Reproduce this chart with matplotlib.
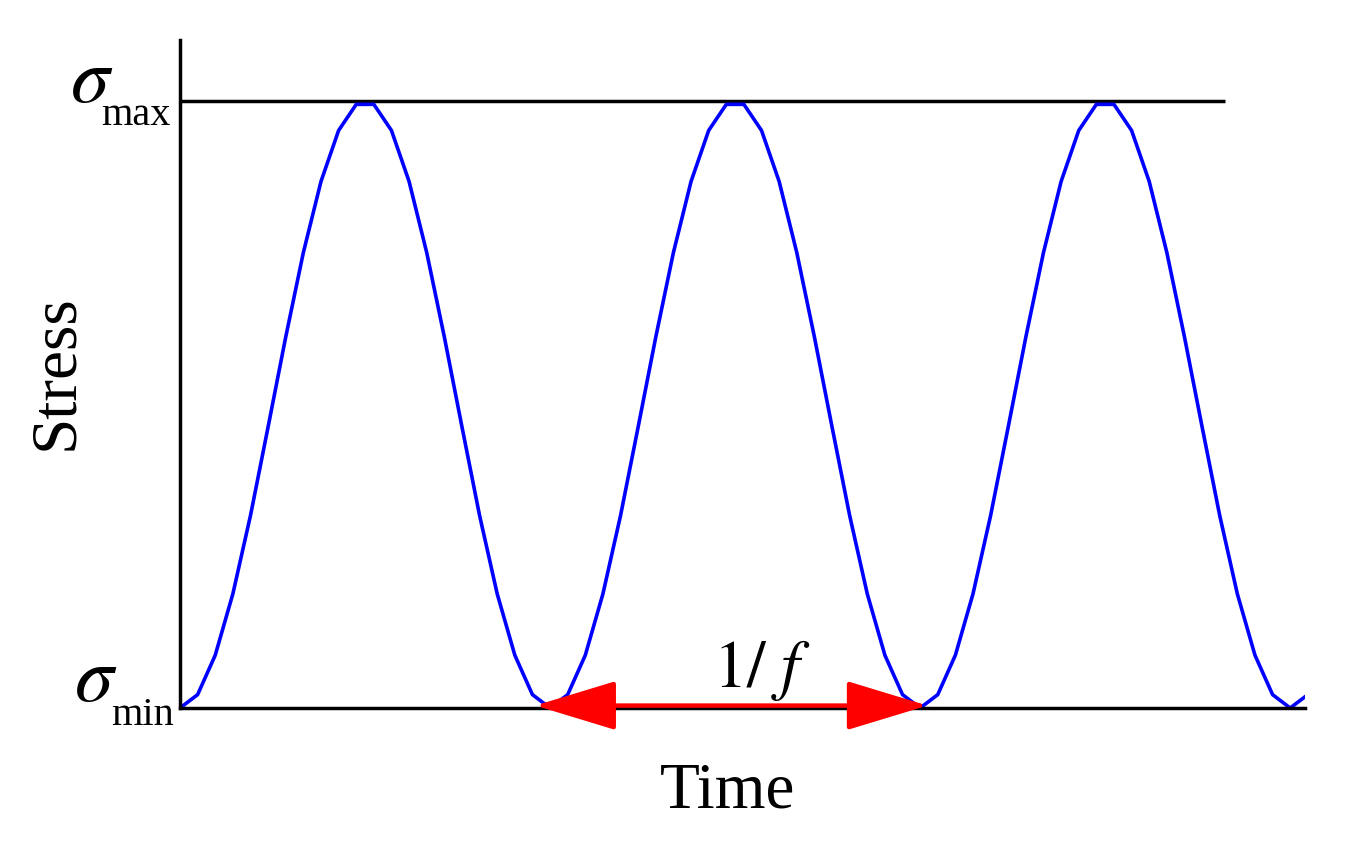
import numpy as np
import matplotlib
matplotlib.use("Agg")
import matplotlib.pyplot as plt

plt.rcParams['mathtext.fontset'] = 'stix'
plt.rcParams['font.family'] = ['Liberation Serif', 'DejaVu Serif']

# ---- data (normalised stress, sampled 21 times per cycle) ----
stress = [0.000, 0.022, 0.087, 0.188, 0.317, 0.463, 0.611, 0.750, 0.867, 0.951, 0.994,
          0.994, 0.951, 0.867, 0.750, 0.611, 0.463, 0.317, 0.188, 0.087, 0.022,
          0.000, 0.022, 0.087, 0.188, 0.317, 0.463, 0.611, 0.750, 0.867, 0.951, 0.994,
          0.994, 0.951, 0.867, 0.750, 0.611, 0.463, 0.317, 0.188, 0.087, 0.022,
          0.000, 0.022, 0.087, 0.188, 0.317, 0.463, 0.611, 0.750, 0.867, 0.951, 0.994,
          0.994, 0.951, 0.867, 0.750, 0.611, 0.463, 0.317, 0.188, 0.087, 0.022,
          0.000, 0.022]
time_step = 1 / 21
time = np.arange(len(stress)) * time_step

sigma_max = 1.0
max_line_end = 2.824
arrow_start = 0.96
arrow_end = 2.02
arrow_y = 0.004
x_max = 3.04
y_max = 1.1

W, H = 1345, 841
fig = plt.figure(figsize=(W / 100, H / 100), dpi=100)
ax = fig.add_axes([180 / W, 133 / H, 1125 / W, 668 / H])

ax.plot(time, stress, color='#0000ff', lw=2.6)
ax.plot([0, max_line_end], [sigma_max, sigma_max], color='black', lw=2.5,
        solid_capstyle='butt', zorder=1)

ax.annotate('', xy=(arrow_end, arrow_y), xytext=(arrow_start, arrow_y),
            arrowprops=dict(arrowstyle='<|-|>,head_length=5.1,head_width=1.55',
                            mutation_scale=10, color='red', lw=3.2,
                            shrinkA=0, shrinkB=0), zorder=5)

ax.set_xlim(0, x_max)
ax.set_ylim(0, y_max)
for s in ['top', 'right']:
    ax.spines[s].set_visible(False)
for s in ['left', 'bottom']:
    ax.spines[s].set_linewidth(2.5)
    ax.spines[s].set_color('black')
ax.set_xticks([])
ax.set_yticks([])


def px(x, y):
    return x / W, 1 - y / H


fig.text(*px(728, 808), 'Time', ha='center', va='baseline', fontsize=47)
fig.text(*px(56, 372), 'Stress', ha='center', va='center', rotation=90,
         fontsize=47)
fig.text(*px(762, 687), r'$1/\ f$', ha='center', va='baseline', fontsize=48)

# sigma labels
fig.text(*px(113, 102), r'$\sigma$', ha='right', va='baseline', fontsize=56)
fig.text(*px(101, 125), 'max', ha='left', va='baseline', fontsize=29)
fig.text(*px(117, 701), r'$\sigma$', ha='right', va='baseline', fontsize=56)
fig.text(*px(111, 725), 'min', ha='left', va='baseline', fontsize=29)

fig.savefig('out.png', dpi=100, facecolor='white')
